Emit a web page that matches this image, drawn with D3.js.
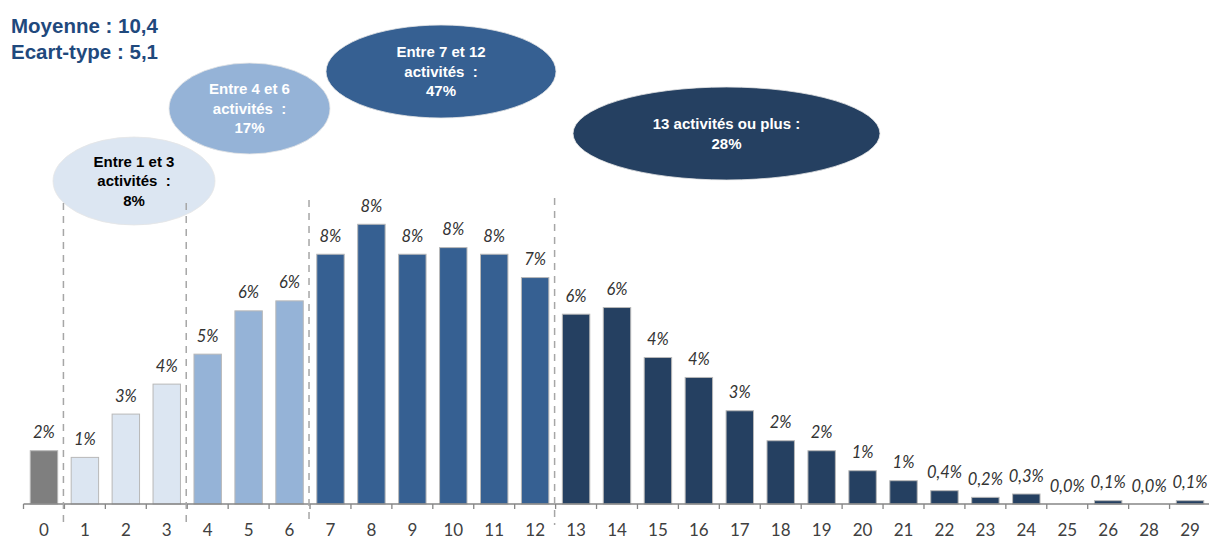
<!DOCTYPE html>
<html lang="fr">
<head>
<meta charset="utf-8">
<title>Nombre d'activités</title>
<script src="https://cdn.jsdelivr.net/npm/d3@7"></script>
<style>
  html, body { margin: 0; padding: 0; background: #fff; }
  svg { display: block; }
</style>
</head>
<body>
<svg id="chart" width="1209" height="539"></svg>
<script>
// Number of activities (x) and share of respondents in % (y)
const categories = ["0","1","2","3","4","5","6","7","8","9","10","11","12","13","14",
                    "15","16","17","18","19","20","21","22","23","24","25","26","28","29"];
const shares = [1.6, 1.4, 2.7, 3.6, 4.5, 5.8, 6.1, 7.5, 8.4, 7.5, 7.7, 7.5, 6.8, 5.7, 5.9,
                4.4, 3.8, 2.8, 1.9, 1.6, 1.0, 0.7, 0.4, 0.2, 0.3, 0.0, 0.1, 0.0, 0.1];

// Activity groups: first and last category of each, summary text and share
const groupFirst = ["1", "4", "7", "13"];
const groupLast  = ["3", "6", "12", "29"];
const groupText  = [["Entre 1 et 3", "activités  :"],
                    ["Entre 4 et 6", "activités  :"],
                    ["Entre 7 et 12", "activités  :"],
                    ["13 activités ou plus :"]];
const groupShares = [8, 17, 47, 28];

const stats = ["Moyenne : 10,4", "Ecart-type : 5,1"];

// ---- styling -------------------------------------------------------------
const zeroColor   = "#7f7f7f";
const groupFill   = ["#dce6f2", "#95b3d7", "#366092", "#254061"];
const groupInk    = ["#000000", "#ffffff", "#ffffff", "#ffffff"];
// bubble placement (centre and radii, in px)
const bubbles = [
  { cx: 134,   cy: 181,   rx: 81,    ry: 44 },
  { cx: 249.5, cy: 108.5, rx: 80.5,  ry: 45.5 },
  { cx: 441,   cy: 71.5,  rx: 115,   ry: 46.5 },
  { cx: 726.5, cy: 133.5, rx: 153.5, ry: 46.5 }
];

const svg = d3.select("#chart");
const baseY = 504;

const x = d3.scaleBand()
  .domain(categories)
  .range([23.5, 1210.5])
  .paddingInner(0.33)
  .paddingOuter(0.165);

const y = d3.scaleLinear().domain([0, 10]).range([baseY, baseY - 333]);

const cellStart = c => x(c) - x.step() * 0.165;
const cellEnd = c => cellStart(c) + x.step();

const idx = c => categories.indexOf(c);
function groupIndex(c) {
  const i = idx(c);
  for (let g = 0; g < groupFirst.length; g++) {
    if (i >= idx(groupFirst[g]) && i <= idx(groupLast[g])) return g;
  }
  return -1;
}
const fillFor = c => { const g = groupIndex(c); return g < 0 ? zeroColor : groupFill[g]; };

const fmt = v => v >= 0.5 ? Math.round(v) + "%" : v.toFixed(1).replace(".", ",") + "%";

// ---- summary statistics -----------------------------------------------------
svg.append("g").selectAll("text")
  .data(stats)
  .join("text")
  .attr("x", 11)
  .attr("y", (d, i) => 33 + i * 26)
  .attr("font-family", "'Liberation Sans', Arial, sans-serif")
  .attr("font-weight", "bold")
  .attr("font-size", 20.5)
  .attr("fill", "#1f497d")
  .text(d => d);

// ---- bars ---------------------------------------------------------------------
const data = categories.map((c, i) => ({ c, v: shares[i] }));

svg.append("g").selectAll("rect")
  .data(data)
  .join("rect")
  .attr("x", d => x(d.c))
  .attr("y", d => y(d.v))
  .attr("width", x.bandwidth())
  .attr("height", d => baseY - y(d.v))
  .attr("fill", d => fillFor(d.c))
  .attr("stroke", d => d.v > 0 ? "#b8b8b8" : "none")
  .attr("stroke-width", 1);

// value labels
svg.append("g").selectAll("text")
  .data(data)
  .join("text")
  .attr("x", d => x(d.c) + x.bandwidth() / 2)
  .attr("y", d => y(d.v) - 12.5)
  .attr("text-anchor", "middle")
  .attr("font-family", "Lato, 'Open Sans', sans-serif")
  .attr("font-style", "italic")
  .attr("font-size", 16.5)
  .attr("fill", "#333333")
  .text(d => fmt(d.v));

// ---- x axis ---------------------------------------------------------------------
const axis = svg.append("g");
axis.append("line")
  .attr("x1", cellStart(categories[0]))
  .attr("x2", cellEnd(categories[categories.length - 1]))
  .attr("y1", baseY).attr("y2", baseY)
  .attr("stroke", "#868686").attr("stroke-width", 1.3);

const tickXs = categories.map(cellStart).concat([cellEnd(categories[categories.length - 1])]);
axis.selectAll("line.tick")
  .data(tickXs)
  .join("line")
  .attr("class", "tick")
  .attr("x1", d => d).attr("x2", d => d)
  .attr("y1", baseY).attr("y2", baseY + 5)
  .attr("stroke", "#868686").attr("stroke-width", 1.3);

const labels = svg.append("g")
  .attr("transform", `translate(0,${baseY})`)
  .call(d3.axisBottom(x).tickSize(0).tickPadding(0));
labels.select(".domain").remove();
labels.selectAll("text")
  .attr("y", 31.5)
  .attr("dy", 0)
  .attr("font-family", "Lato, 'Open Sans', sans-serif")
  .attr("font-size", 17)
  .attr("fill", "#404040");

// ---- group bubbles --------------------------------------------------------------
const gb = svg.append("g").selectAll("g")
  .data(bubbles)
  .join("g");

gb.append("ellipse")
  .attr("cx", d => d.cx).attr("cy", d => d.cy)
  .attr("rx", d => d.rx).attr("ry", d => d.ry)
  .attr("fill", (d, i) => groupFill[i])
  .attr("stroke", "#e6e6e6").attr("stroke-width", 0.8);

gb.each(function (d, i) {
  const lines = groupText[i].concat([groupShares[i] + "%"]);
  const lh = 19.5;
  const top = d.cy - (lines.length - 1) * lh / 2 + 5.3;
  d3.select(this).selectAll("text")
    .data(lines)
    .join("text")
    .attr("x", d.cx)
    .attr("y", (t, j) => top + j * lh)
    .attr("text-anchor", "middle")
    .attr("font-family", "'Liberation Sans', Arial, sans-serif")
    .attr("font-weight", "bold")
    .attr("font-size", 15)
    .attr("fill", groupInk[i])
    .style("white-space", "pre")
    .text(t => t);
});

// ---- dashed group separators ------------------------------------------------------
const sepTop = [203, 203, 200, 198];
svg.append("g").selectAll("line")
  .data(groupFirst.map((c, i) => ({ xPos: cellStart(c) - 1, top: sepTop[i] })))
  .join("line")
  .attr("x1", d => d.xPos).attr("x2", d => d.xPos)
  .attr("y1", d => d.top).attr("y2", 525)
  .attr("stroke", "#a6a6a6")
  .attr("stroke-width", 1.5)
  .attr("stroke-dasharray", "7,6");
</script>
</body>
</html>
